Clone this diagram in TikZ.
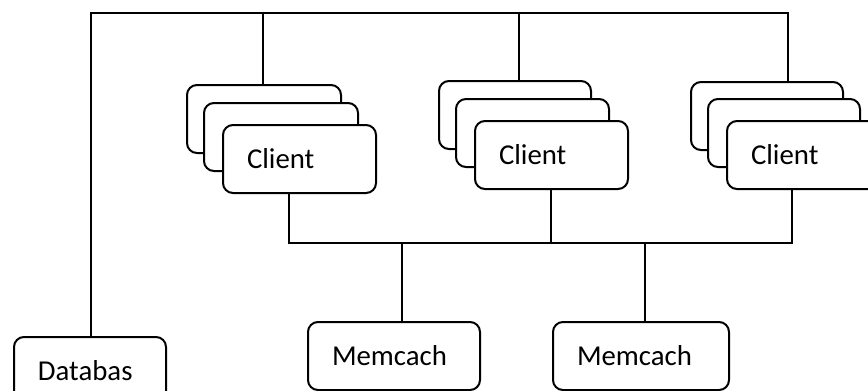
\documentclass[tikz,border=0pt]{standalone}
\usepackage{fontspec}
\setmainfont{Carlito}
\usetikzlibrary{positioning}
\tikzstyle{card}=[draw, fill=white, rounded corners=5pt, line width=1pt, minimum height=34pt, inner xsep=12pt, inner ysep=0pt, align=left, anchor=north west, font=\fontsize{14.4}{17}\selectfont]
\tikzstyle{wire}=[line width=1pt]

\begin{document}
\begin{tikzpicture}[x=0.5pt,y=-0.5pt]
    \useasboundingbox (0,0) rectangle (868,391);
    \clip (0,0) rectangle (868,391);
    % client stacks
    \node [card, text width=53pt] (back1) at (186,84) {};
    \node [card, text width=53pt] (mid1) at (203,102) {};
    \node [card, text width=52.5pt] (front1) at (222,124) {Client};
    \node [card, text width=52pt] (back2) at (438,80) {};
    \node [card, text width=52.5pt] (mid2) at (455,98) {};
    \node [card, text width=52.5pt] (front2) at (474,120) {Client};
    \node [card, text width=52pt] (back3) at (690,81) {};
    \node [card, text width=52pt] (mid3) at (707,98) {};
    \node [card, text width=52.5pt] (front3) at (726,120) {Client};
    % servers
    \node [card, text width=62pt] (mem1) at (307,321) {Memcach};
    \node [card, text width=64pt, right=35.5pt of mem1] (mem2) {Memcach};
    \node [card, text width=52pt] (db) at (13,336) {Databas};

    \coordinate (t0) at (91,13);
    \coordinate (t1) at (263,13);
    \coordinate (t2) at (519,13);
    \coordinate (t3) at (788,13);
    \draw[wire] (t0 |- db.north) -- (t0) -- (t3) -- (t3 |- back3.north);
    \draw[wire] (t1) -- (t1 |- back1.north);
    \draw[wire] (t2) -- (t2 |- back2.north);

    \coordinate (c1) at (289,243);
    \coordinate (c2) at (551,243);
    \coordinate (c3) at (792,243);
    \coordinate (m1) at (402,243);
    \coordinate (m2) at (645,243);
    \draw[wire] (c1 |- front1.south) -- (c1) -- (c3) -- (c3 |- front3.south);
    \draw[wire] (c2 |- front2.south) -- (c2);
    \draw[wire] (m1) -- (m1 |- mem1.north);
    \draw[wire] (m2) -- (m2 |- mem2.north);
\end{tikzpicture}
\end{document}
